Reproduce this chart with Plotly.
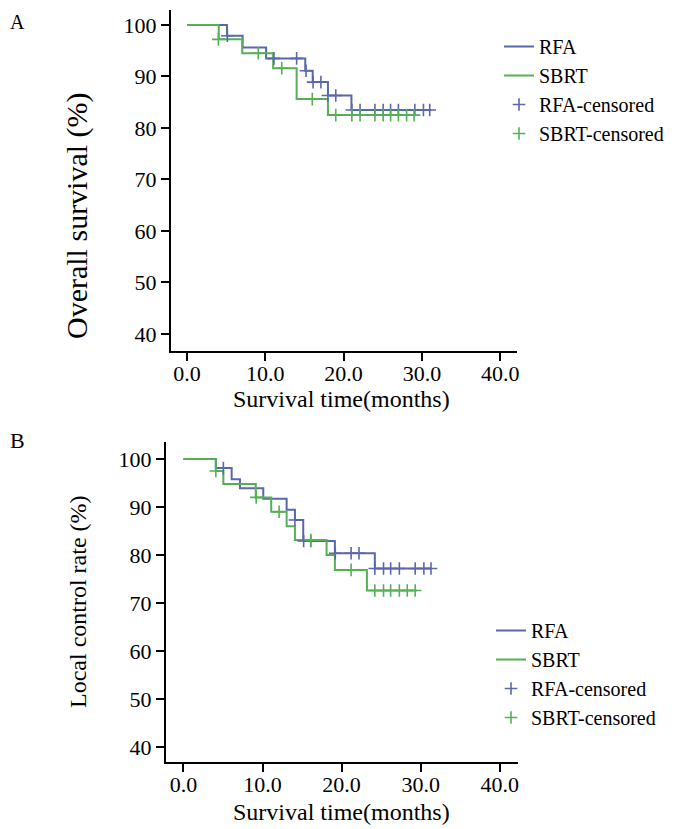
import plotly.graph_objects as go

# ---------------- Panel A: Overall survival ----------------
a_rfa_t = [0, 5.1, 7.1, 10.1, 15.1, 16.05, 18.0, 21.0, 31.2]
a_rfa_s = [100, 97.9, 95.6, 93.5, 91.1, 88.9, 86.3, 83.5, 83.5]
a_sbrt_t = [0, 4.05, 7.05, 11.0, 14.0, 18.0, 29.2]
a_sbrt_s = [100, 97.2, 94.5, 91.6, 85.6, 82.5, 82.5]
a_rfa_cens_t = [5.15, 11.1, 14.0, 15.2, 16.1, 17.1, 18.0, 19.0, 21.05, 22.1, 24.0, 25.05, 26.0, 27.0, 29.1, 30.2, 31.0]
a_rfa_cens_s = [97.9, 93.5, 93.5, 91.1, 88.9, 88.9, 86.3, 86.3, 83.5, 83.5, 83.5, 83.5, 83.5, 83.5, 83.5, 83.5, 83.5]
a_sbrt_cens_t = [4.0, 9.1, 12.1, 16.0, 19.0, 21.05, 22.1, 24.0, 25.05, 26.0, 27.0, 28.05, 29.0]
a_sbrt_cens_s = [97.2, 94.5, 91.6, 85.6, 82.5, 82.5, 82.5, 82.5, 82.5, 82.5, 82.5, 82.5, 82.5]

# ---------------- Panel B: Local control rate ----------------
b_rfa_t = [0, 4.1, 6.1, 7.15, 10.1, 13.05, 14.1, 15.15, 19.15, 24.2, 31.3]
b_rfa_s = [100, 98.1, 95.8, 93.9, 91.7, 89.4, 87.3, 82.9, 80.35, 77.2, 77.2]
b_sbrt_t = [0, 4.1, 5.05, 9.15, 11.1, 13.05, 14.1, 18.1, 19.15, 23.2, 29.5]
b_sbrt_s = [100, 97.5, 94.8, 92.0, 89.0, 86.0, 83.1, 80.0, 76.9, 72.6, 72.6]
b_rfa_cens_t = [5.05, 14.1, 15.2, 16.1, 19.2, 21.2, 22.2, 24.2, 25.3, 26.2, 27.3, 29.3, 30.4, 31.3]
b_rfa_cens_s = [98.1, 87.3, 82.9, 82.9, 80.35, 80.35, 80.35, 77.2, 77.2, 77.2, 77.2, 77.2, 77.2, 77.2]
b_sbrt_cens_t = [4.1, 9.2, 12.1, 16.1, 21.2, 24.2, 25.3, 26.2, 27.3, 28.3, 29.3]
b_sbrt_cens_s = [97.5, 92.0, 89.0, 83.1, 76.9, 72.6, 72.6, 72.6, 72.6, 72.6, 72.6]

y_ticks = [40, 50, 60, 70, 80, 90, 100]
x_ticks = [0, 10, 20, 30, 40]

RFA_C = "#5a67ad"
SBRT_C = "#55b055"
FONT = "Liberation Serif"

# the page body adds an 8px margin, so the figure is drawn 8px smaller
OFF = 8
W, H = 700 - OFF, 829 - OFF

# plot area (window pixels) that holds both panels
L, R, T, B = 166, 518, 10, 762
PW, PH = R - L, B - T


def px(x):
    return (x - L) / PW


def py(y):
    return (B - y) / PH


fig = go.Figure()


def add_panel(xa, ya, leg, rt, rs, st, ss, rct, rcs, sct, scs):
    fig.add_trace(go.Scatter(x=rt, y=rs, mode="lines", name="RFA",
                             line=dict(color=RFA_C, width=2, shape="hv"),
                             xaxis=xa, yaxis=ya, legend=leg))
    fig.add_trace(go.Scatter(x=st, y=ss, mode="lines", name="SBRT",
                             line=dict(color=SBRT_C, width=2, shape="hv"),
                             xaxis=xa, yaxis=ya, legend=leg))
    fig.add_trace(go.Scatter(x=rct, y=rcs, mode="markers", name="RFA-censored",
                             marker=dict(symbol="cross-thin", size=9,
                                         line=dict(color=RFA_C, width=1.6)),
                             xaxis=xa, yaxis=ya, legend=leg))
    fig.add_trace(go.Scatter(x=sct, y=scs, mode="markers", name="SBRT-censored",
                             marker=dict(symbol="cross-thin", size=9,
                                         line=dict(color=SBRT_C, width=1.6)),
                             xaxis=xa, yaxis=ya, legend=leg))


add_panel("x", "y", "legend", a_rfa_t, a_rfa_s, a_sbrt_t, a_sbrt_s,
          a_rfa_cens_t, a_rfa_cens_s, a_sbrt_cens_t, a_sbrt_cens_s)
add_panel("x2", "y2", "legend2", b_rfa_t, b_rfa_s, b_sbrt_t, b_sbrt_s,
          b_rfa_cens_t, b_rfa_cens_s, b_sbrt_cens_t, b_sbrt_cens_s)

tickfont = dict(family=FONT, size=22, color="black")
common_x = dict(showline=True, linecolor="black", linewidth=2, ticks="outside",
                ticklen=8, tickwidth=2, tickcolor="black", showgrid=False,
                zeroline=False, tickvals=x_ticks, tickformat=".1f",
                tickfont=tickfont, automargin=False, ticklabelstandoff=-6)
common_y = dict(showline=True, linecolor="black", linewidth=2, ticks="outside",
                ticklen=8, tickwidth=2, tickcolor="black", showgrid=False,
                zeroline=False, tickvals=y_ticks, tickfont=tickfont,
                automargin=False)


def text(t, x, y, size, angle=0, yanchor="middle"):
    return dict(text=t, x=px(x), y=py(y), xref="paper", yref="paper",
                xanchor="center", yanchor=yanchor, textangle=angle,
                showarrow=False, font=dict(family=FONT, size=size, color="black"))


fig.update_layout(
    width=W, height=H,
    margin=dict(l=L - OFF, r=700 - R, t=T - OFF, b=829 - B, autoexpand=False),
    paper_bgcolor="white", plot_bgcolor="white",
    font=dict(family=FONT, color="black"),
    xaxis=dict(common_x, domain=[px(171), px(517)], range=[-2.05, 42.15], anchor="y"),
    yaxis=dict(common_y, domain=[py(351), py(10)], range=[36.7, 102.9], anchor="x"),
    xaxis2=dict(common_x, domain=[px(166), px(518)], range=[-2.2, 42.3], anchor="y2"),
    yaxis2=dict(common_y, domain=[py(762), py(442)], range=[36.875, 103.54], anchor="x2"),
    legend=dict(x=px(499), y=py(27), xanchor="left", yanchor="top",
                font=dict(family=FONT, size=20, color="black"),
                bgcolor="rgba(0,0,0,0)", borderwidth=0),
    legend2=dict(x=px(491), y=py(611), xanchor="left", yanchor="top",
                 font=dict(family=FONT, size=20, color="black"),
                 bgcolor="rgba(0,0,0,0)", borderwidth=0),
    annotations=[
        text("A", 17, 9, 20, yanchor="top"),
        text("B", 17, 440, 22),
        text("Overall survival (%)", 77, 215, 30, -90),
        text("Survival time(months)", 341, 399, 24),
        text("Local control rate (%)", 78, 602, 24, -90),
        text("Survival time(months)", 341, 812, 24),
    ],
)

fig.write_html("out.html")
